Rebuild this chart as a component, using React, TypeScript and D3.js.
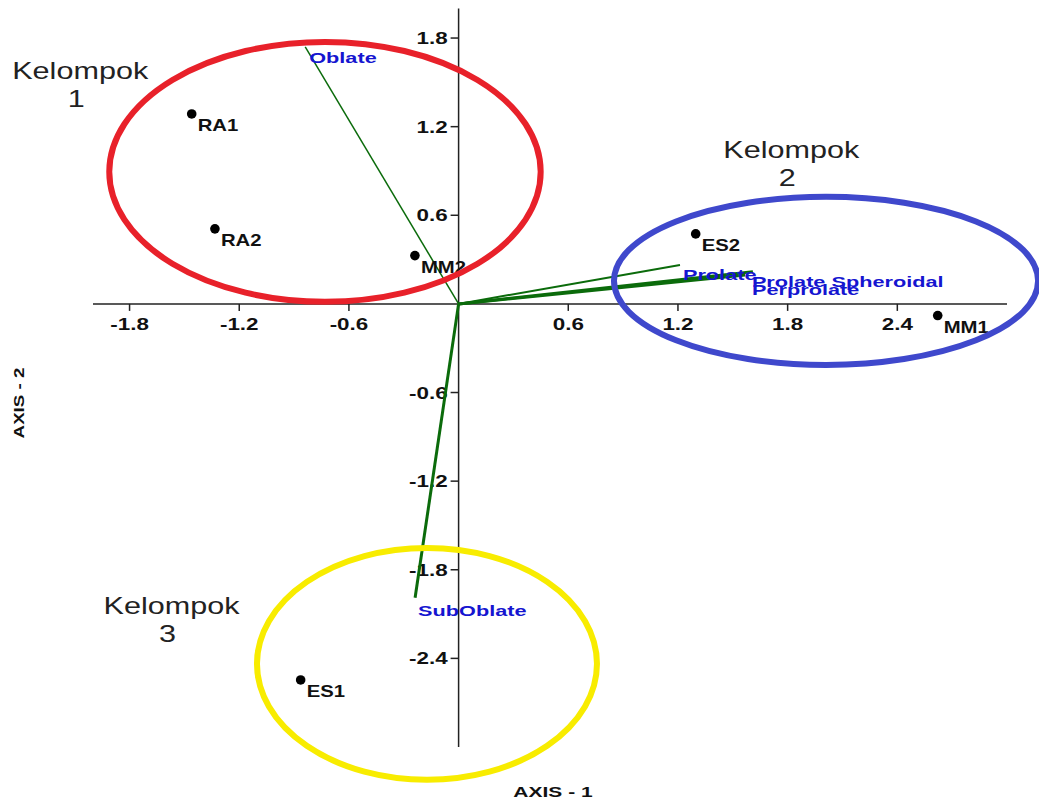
import React from "react";
import * as d3 from "d3";

const xTicks = [-1.8, -1.2, -0.6, 0.6, 1.2, 1.8, 2.4];
const yTicks = [1.8, 1.2, 0.6, -0.6, -1.2, -1.8, -2.4];

const pointNames = ["RA1", "RA2", "MM2", "ES2", "MM1", "ES1"];
const pointX = [-1.46, -1.333, -0.239, 1.297, 2.621, -0.864];
const pointY = [1.286, 0.508, 0.327, 0.474, -0.079, -2.546];

const vecNames = ["Oblate", "SubOblate", "Prolate", "Prolate Spheroidal", "Perprolate"];
const vecX = [-0.839, -0.238, 1.211, 1.61, 1.567];
const vecY = [1.74, -1.99, 0.264, 0.217, 0.196];
const vecWidth = [1.5, 3, 2, 3, 3];
const vecLabelDx = [4, 3, 3, -1, 7];
const vecLabelDy = [16, 18, 15, 15, 20];

const groupNames = ["Kelompok 1", "Kelompok 2", "Kelompok 3"];
const groupCx = [-0.731, 2.01, -0.173];
const groupCy = [0.894, 0.156, -2.437];
const groupRx = [1.18, 1.16, 0.93];
const groupRy = [0.88, 0.569, 0.785];
const groupColors = ["#e8212a", "#3f48cc", "#f8ec00"];
const groupLabelX = [-2.07, 1.82, -1.57];
const groupLabelY = [1.52, 0.99, -2.1];

const W = 1039;
const H = 801;
const FONT = "'Liberation Sans', Arial, sans-serif";

function T(props: any) {
  const { x, y, sx = 1.3, anchor = "start", rotate = 0, children, ...rest } = props;
  return (
    <text
      transform={`translate(${x},${y}) rotate(${rotate}) scale(${sx},1)`}
      textAnchor={anchor}
      fontFamily={FONT}
      {...rest}
    >
      {children}
    </text>
  );
}

export default function App() {
  const x = d3.scaleLinear().domain([-2, 3]).range([93, 1007]);
  const y = d3.scaleLinear().domain([-3, 2]).range([747, 8.5]);
  const x0 = x(0);
  const y0 = y(0);

  return (
    <svg width={W} height={H} style={{ position: "absolute", left: 0, top: 0, background: "#fff" }}>
      <rect width={W} height={H} fill="#fff" />
      {/* axes */}
      <line x1={x(-2)} x2={x(3)} y1={y0} y2={y0} stroke="#222" strokeWidth={1.5} />
      <line x1={x0} x2={x0} y1={y(2)} y2={y(-3)} stroke="#222" strokeWidth={1.5} />
      {xTicks.map((t) => (
        <g key={"xt" + t}>
          <line x1={x(t)} x2={x(t)} y1={y0} y2={y0 + 7} stroke="#222" strokeWidth={1.5} />
          <T x={x(t)} y={y0 + 26} anchor="middle" sx={1.4} fontSize={16} fontWeight="bold" fill="#111">
            {t.toFixed(1)}
          </T>
        </g>
      ))}
      {yTicks.map((t) => (
        <g key={"yt" + t}>
          <line x1={x0 - 8} x2={x0} y1={y(t)} y2={y(t)} stroke="#222" strokeWidth={1.5} />
          <T x={x0 - 11} y={y(t) + 6} anchor="end" sx={1.4} fontSize={16} fontWeight="bold" fill="#111">
            {t.toFixed(1)}
          </T>
        </g>
      ))}
      {/* vectors */}
      {vecNames.map((n, i) => (
        <line
          key={"v" + n}
          x1={x0}
          y1={y0}
          x2={x(vecX[i])}
          y2={y(vecY[i])}
          stroke="#0b6b0b"
          strokeWidth={vecWidth[i]}
        />
      ))}
      {vecNames.map((n, i) => (
        <T
          key={"vl" + n}
          x={x(vecX[i]) + vecLabelDx[i]}
          y={y(vecY[i]) + vecLabelDy[i]}
          sx={1.4}
          fontSize={15.5}
          fontWeight="bold"
          fill="#1515d0"
        >
          {n}
        </T>
      ))}
      {/* points */}
      {pointNames.map((n, i) => (
        <g key={"p" + n}>
          <circle cx={x(pointX[i])} cy={y(pointY[i])} r={4.8} fill="#000" />
          <T x={x(pointX[i]) + 6} y={y(pointY[i]) + 17} sx={1.27} fontSize={16} fontWeight="bold" fill="#111">
            {n}
          </T>
        </g>
      ))}
      {/* group ellipses */}
      {groupNames.map((n, i) => (
        <ellipse
          key={"e" + n}
          cx={x(groupCx[i])}
          cy={y(groupCy[i])}
          rx={x(groupRx[i]) - x(0)}
          ry={y(0) - y(groupRy[i])}
          fill="none"
          stroke={groupColors[i]}
          strokeWidth={6}
        />
      ))}
      {groupNames.map((n, i) => {
        const parts = n.split(" ");
        return (
          <g key={"g" + n}>
            <T x={x(groupLabelX[i])} y={y(groupLabelY[i])} anchor="middle" sx={1.33} fontSize={23} fill="#222">
              {parts[0]}
            </T>
            <T x={x(groupLabelX[i]) - 4} y={y(groupLabelY[i]) + 28} anchor="middle" sx={1.33} fontSize={23} fill="#222">
              {parts[1]}
            </T>
          </g>
        );
      })}
      {/* axis titles */}
      <T x={553} y={797} anchor="middle" sx={1.4} fontSize={15} fontWeight="bold" fill="#111">
        AXIS - 1
      </T>
      <T x={24} y={403} anchor="middle" rotate={-90} sx={1.25} fontSize={15} fontWeight="bold" fill="#111">
        AXIS - 2
      </T>
    </svg>
  );
}
